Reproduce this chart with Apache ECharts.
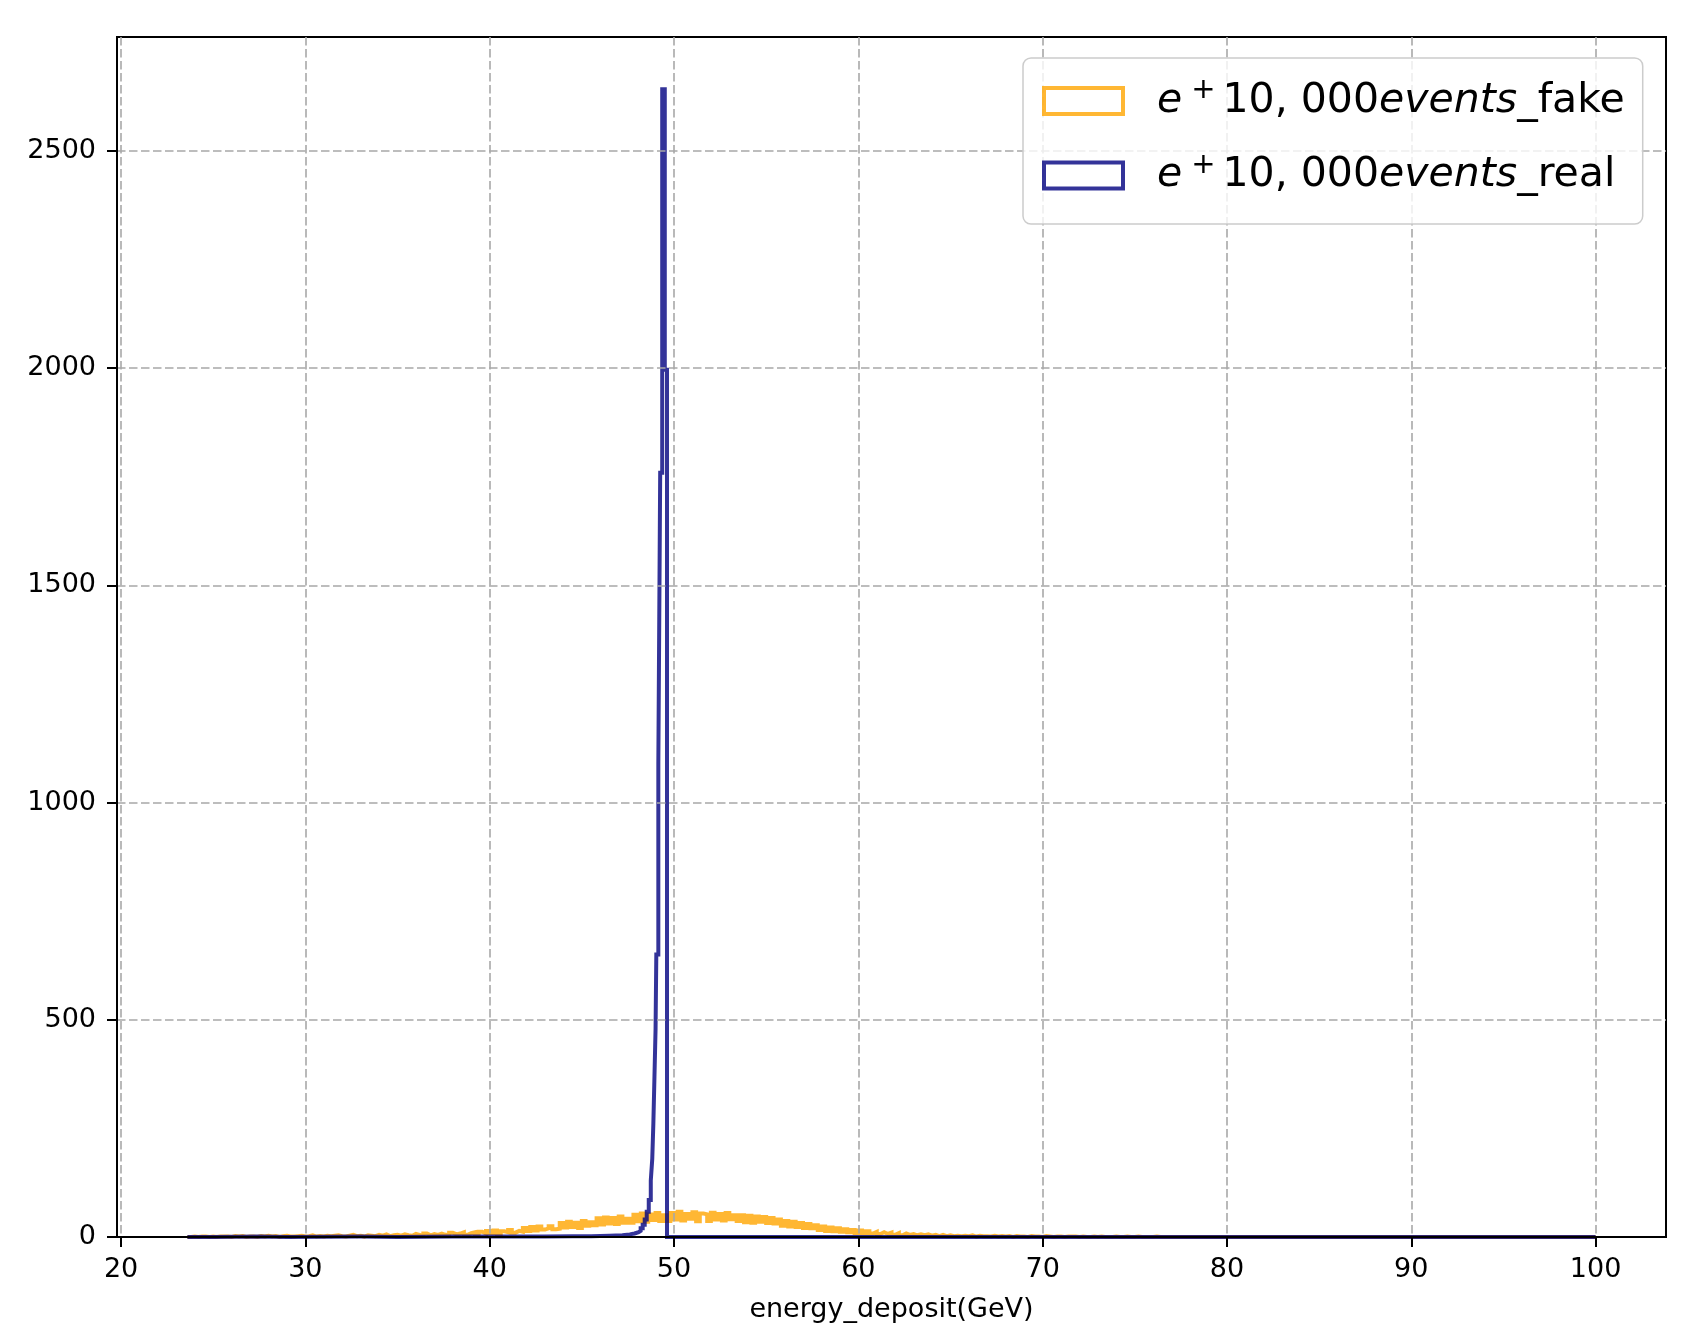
<!DOCTYPE html>
<html>
<head>
<meta charset="utf-8">
<script src="https://cdn.jsdelivr.net/npm/echarts@6/dist/echarts.min.js"></script>
<style>
html,body{margin:0;padding:0;background:#ffffff;}
#chart{width:1704px;height:1344px;}
</style>
</head>
<body>
<div id="chart"></div>
<script>
// ---------------- data ----------------
const xTicks = [20, 30, 40, 50, 60, 70, 80, 90, 100];
const yTicks = [0, 500, 1000, 1500, 2000, 2500];
const xLabelName = 'energy_deposit(GeV)';
const seriesNames = ['e+10,000events_fake', 'e+10,000events_real'];

// fake: histogram, bins start at 23.6 GeV, 0.2 GeV wide (counts per bin as read)
const fakeStart = 23.6;
const fakeBinWidth = 0.2;
const fakeCounts = [
  0,1,0,1,1,0,1,0,1,1,
  1,0,2,1,2,0,1,1,0,2,
  1,3,1,2,0,2,3,1,1,2,
  3,1,2,4,1,2,1,3,2,3,
  4,2,1,3,5,2,3,1,4,3,
  2,5,3,6,2,4,5,3,6,4,
  3,7,5,3,8,4,7,5,8,5,
  5,10,6,8,11,5,9,11,6,12,
  8,14,9,15,7,13,11,16,10,14,
  12,21,14,23,15,24,17,20,25,18,
  19,32,22,35,23,33,21,37,26,34,
  27,43,29,45,31,44,30,47,33,42,
  33,51,36,54,35,52,39,55,37,50,
  37,55,40,58,38,53,42,57,36,54,
  52,37,56,40,53,38,55,41,50,37,
  50,34,49,33,47,35,46,32,44,31,
  40,26,37,24,35,23,32,21,30,20,
  27,16,24,14,22,13,20,12,18,11,
  16,9,15,8,13,8,12,7,11,7,
  10,5,9,4,8,5,7,4,6,4,
  6,3,5,2,5,2,4,2,3,2,
  3,2,4,1,3,2,2,1,3,1,
  2,1,2,0,2,1,1,0,2,1,
  1,0,2,1,0,1,1,0,1,1,
  1,0,1,0,0,1,0,1,0,0,
  0,1,0,0,1,0,0,1,0,0,
  0,0,1,0,0,0,0,0,0,0,
  0,0,0,0,0,0,0,0,0,0,
  0,0,0,0,0,0,0,0,0,0,
  0,0,0,0,0,0,0,0,0,0,
  0,0,0,0,0,0,0,0,0,0,
  0,0,0,0,0,0,0,0,0,0,
  0,0,0,0,0,0,0,0,0,0,
  0,0,0,0,0,0,0,0,0,0,
  0,0,0,0,0,0,0,0,0,0,
  0,0,0,0,0,0,0,0,0,0,
  0,0,0,0,0,0,0,0,0,0,
  0,0,0,0,0,0,0,0,0,0,
  0,0
];

// real: histogram with bin edges (GeV) and counts as read
const realEdges = [
  23.6, 25, 27.5, 29, 33, 35, 38, 41, 43, 44.5, 45.5, 46.5, 47.2, 47.6, 47.86,
  48.08, 48.19, 48.30, 48.41, 48.52, 48.63, 48.74, 48.82, 48.88, 48.94, 49.00,
  49.04, 49.15, 49.25, 49.36, 49.50, 49.62, 100
];
const realCounts = [
  0, 1, 0, 1, 0, 1, 1, 1, 2, 2, 3, 4, 6, 8, 11,
  14, 20, 28, 40, 58, 85, 130, 180, 262, 370, 480,
  650, 1091, 1759, 2642, 1996, 0
];

// ---------------- build ----------------
const fakeEdges = [];
for (let i = 0; i <= fakeCounts.length; i++) {
  fakeEdges.push(+(fakeStart + i * fakeBinWidth).toFixed(3));
}

function stepPoints(edges, counts) {
  const pts = [[edges[0], 0]];
  for (let i = 0; i < counts.length; i++) pts.push([edges[i], counts[i]]);
  pts.push([edges[edges.length - 1], 0]);
  return pts;
}

const FONT = 'DejaVu Sans';
const fakeColor = 'rgba(255,165,0,0.8)';
const realColor = 'rgba(0,0,128,0.8)';
const gridColor = '#a8a8a8';
const plainNumber = function (v) { return String(v); };

const chart = echarts.init(document.getElementById('chart'), null, {renderer: 'canvas'});

const option = {
  animation: false,
  backgroundColor: '#ffffff',
  grid: {
    left: 117, top: 37, width: 1549, height: 1200,
    show: true, borderColor: '#000000', borderWidth: 2, backgroundColor: 'transparent'
  },
  legend: {
    orient: 'vertical',
    left: 1023, top: 58,
    padding: [18, 18, 28, 19],
    itemGap: 29,
    itemWidth: 79, itemHeight: 26,
    backgroundColor: 'rgba(255,255,255,0.8)',
    borderColor: '#cccccc', borderWidth: 1.5, borderRadius: 8,
    selectedMode: false,
    z: 10,
    data: [
      {name: seriesNames[0], icon: 'rect',
       itemStyle: {color: 'rgba(255,255,255,0)', borderColor: fakeColor, borderWidth: 4}},
      {name: seriesNames[1], icon: 'rect',
       itemStyle: {color: 'rgba(255,255,255,0)', borderColor: realColor, borderWidth: 4}}
    ],
    formatter: function (name) {
      const suffix = name.split('events')[1];
      return '{it|e}{sup|+}{rm|10, 000}{it|events}{rm|' + suffix + '}';
    },
    textStyle: {
      fontFamily: FONT, fontSize: 41, color: '#000000', padding: [0, 0, 0, 29],
      rich: {
        it: {fontFamily: FONT, fontStyle: 'italic', fontSize: 41, lineHeight: 50, color: '#000000'},
        rm: {fontFamily: FONT, fontSize: 41, lineHeight: 50, color: '#000000'},
        sup: {fontFamily: FONT, fontSize: 29, lineHeight: 30, verticalAlign: 'top',
              padding: [0, 7, 0, 9], color: '#000000'}
      }
    }
  },
  xAxis: {
    type: 'value',
    min: 19.78, max: 103.82,
    z: 3,
    name: xLabelName,
    nameLocation: 'middle',
    nameGap: 59,
    nameTextStyle: {fontFamily: FONT, fontSize: 27, color: '#000000'},
    axisLine: {show: true, onZero: false, lineStyle: {color: '#000000', width: 2}},
    axisTick: {show: true, length: 10, lineStyle: {color: '#000000', width: 2}, customValues: xTicks},
    axisLabel: {fontFamily: FONT, fontSize: 27, color: '#000000', margin: 19, customValues: xTicks,
                formatter: plainNumber},
    splitLine: {show: true, lineStyle: {color: gridColor, width: 1.6, type: [8.5, 3.5]}}
  },
  yAxis: {
    type: 'value',
    min: 0, max: 2762,
    z: 3,
    axisLine: {show: true, lineStyle: {color: '#000000', width: 2}},
    axisTick: {show: true, length: 10, lineStyle: {color: '#000000', width: 2}, customValues: yTicks},
    axisLabel: {fontFamily: FONT, fontSize: 27, color: '#000000', margin: 21, customValues: yTicks,
                formatter: plainNumber},
    splitLine: {show: true, lineStyle: {color: gridColor, width: 1.6, type: [8.5, 3.5]}}
  },
  series: [
    {
      name: seriesNames[0], type: 'line', step: 'end',
      data: stepPoints(fakeEdges, fakeCounts),
      symbol: 'none', showSymbol: false, clip: true, z: 2,
      lineStyle: {color: fakeColor, width: 4, join: 'miter'},
      itemStyle: {color: fakeColor}
    },
    {
      name: seriesNames[1], type: 'line', step: 'end',
      data: stepPoints(realEdges, realCounts),
      symbol: 'none', showSymbol: false, clip: true, z: 2,
      lineStyle: {color: realColor, width: 4, join: 'miter'},
      itemStyle: {color: realColor}
    }
  ]
};
chart.setOption(option);
</script>
</body>
</html>
